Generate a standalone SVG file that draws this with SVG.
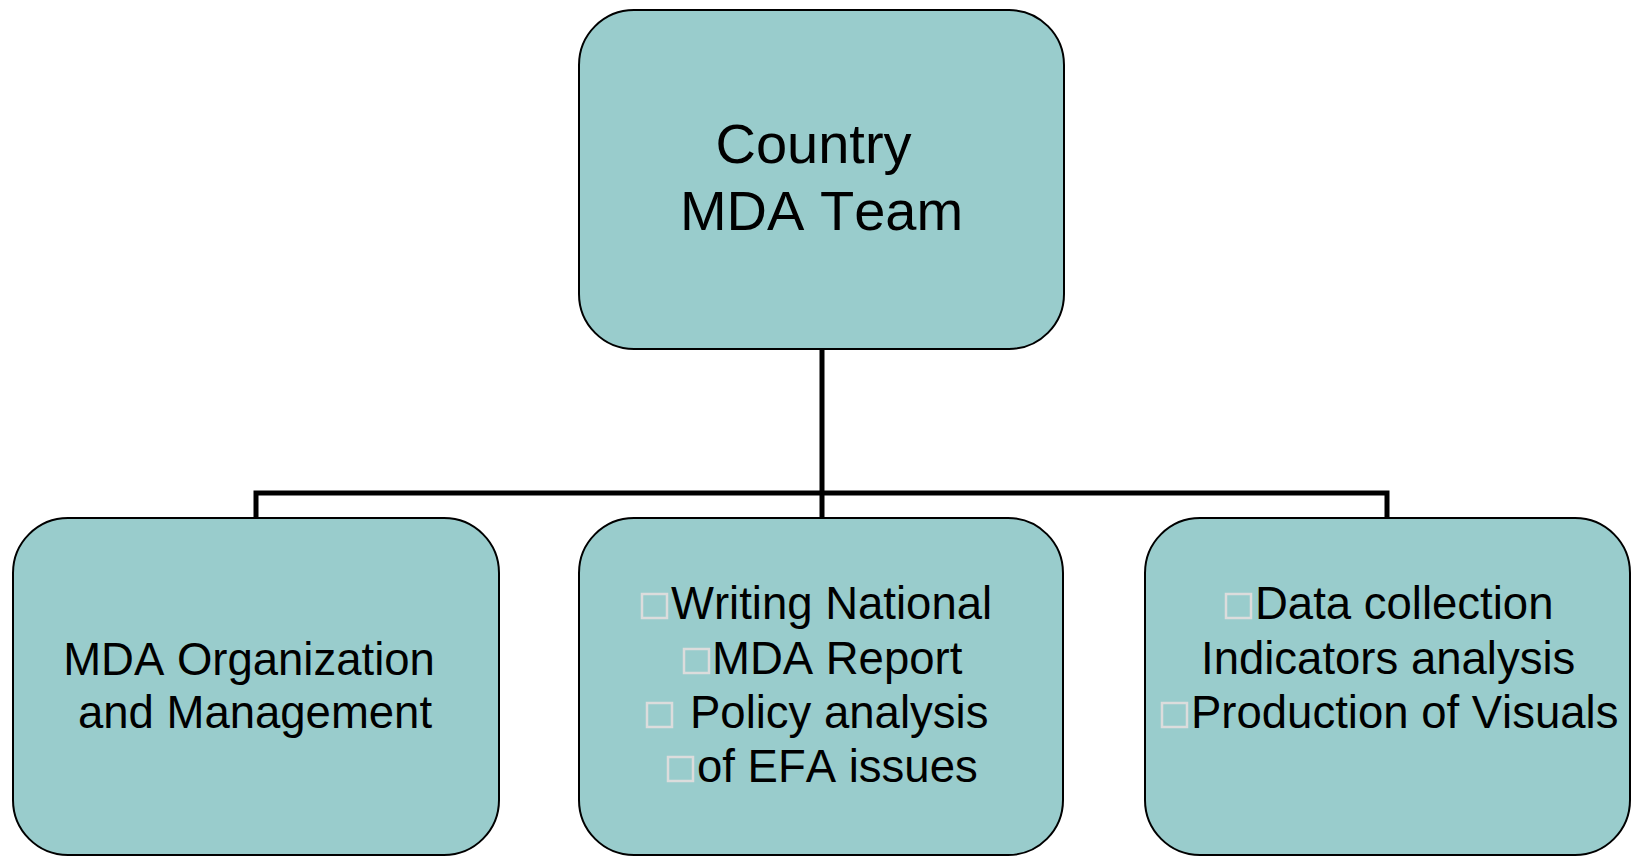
<svg xmlns="http://www.w3.org/2000/svg" width="1635" height="856" viewBox="0 0 1635 856">
<style>
.box{fill:#99cccc;stroke:#000;stroke-width:2}
.t{font-family:"Liberation Sans",Arial,sans-serif;fill:#000;font-kerning:none}
.big{font-size:56px}
.mid{font-size:45.5px}
.bul{fill:none;stroke:#dcdcdc;stroke-width:2.5}
.conn{fill:none;stroke:#000;stroke-width:5;stroke-linejoin:miter}
</style>
<rect width="1635" height="856" fill="#fff"/>
<g id="connectors">
<path class="conn" d="M256,518 V493 H1387 V518"/>
<path class="conn" d="M822,349 V518"/>
</g>
<g id="node-top">
<rect class="box" x="579" y="10" width="485" height="339" rx="55" ry="55"/>
<text class="t big" x="813.5" y="163" text-anchor="middle">Country</text>
<text class="t big" x="821.5" y="230" text-anchor="middle">MDA Team</text>
</g>
<g id="node-left">
<rect class="box" x="13" y="518" width="486" height="337" rx="55" ry="55"/>
<text class="t mid" x="249" y="675" text-anchor="middle">MDA Organization</text>
<text class="t mid" x="255" y="728" text-anchor="middle">and Management</text>
</g>
<g id="node-middle">
<rect class="box" x="579" y="518" width="484" height="337" rx="55" ry="55"/>
<rect class="bul" x="642" y="594" width="25" height="24"/>
<text class="t mid" x="671" y="619">Writing National</text>
<rect class="bul" x="684" y="649" width="25" height="24"/>
<text class="t mid" x="712" y="674">MDA Report</text>
<rect class="bul" x="647" y="703" width="25" height="24"/>
<text class="t mid" x="690" y="728">Policy analysis</text>
<rect class="bul" x="668" y="757" width="25" height="24"/>
<text class="t mid" x="697" y="782">of EFA issues</text>
</g>
<g id="node-right">
<rect class="box" x="1145" y="518" width="485" height="337" rx="55" ry="55"/>
<rect class="bul" x="1226" y="594" width="25" height="24"/>
<text class="t mid" x="1255" y="619">Data collection</text>
<text class="t mid" x="1201" y="674">Indicators analysis</text>
<rect class="bul" x="1162" y="703" width="25" height="24"/>
<text class="t mid" x="1191" y="728">Production of Visuals</text>
</g>
</svg>
